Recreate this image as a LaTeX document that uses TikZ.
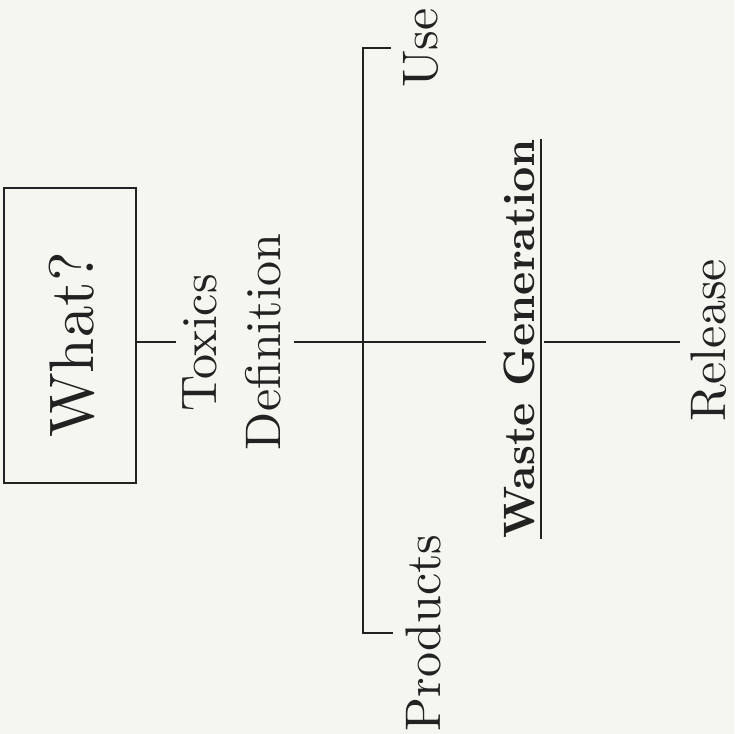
\documentclass[tikz,border=0pt]{standalone}
\usepackage{fontspec}
\setmainfont{lmroman10-regular.otf}[BoldFont=lmroman10-bold.otf]
\usepackage{xcolor}
\usepackage{tikz}
\definecolor{paper}{RGB}{246,246,241}
\definecolor{ink}{RGB}{34,34,34}
\tikzset{
  lbl/.style={rotate=90, anchor=base, inner sep=0pt, text=ink, font=\fontsize{50}{50}\selectfont},
  link/.style={draw=ink, line width=2.5pt},
}

\begin{document}
\begin{tikzpicture}[x=1pt, y=-1pt]

% ---- PAGE ----
\fill[paper] (0,0) rectangle (734,734);
\useasboundingbox (0,0) rectangle (734,734);
\coordinate (hub) at (363,342);

% ---- QUESTION BOX ----
\node[draw=ink, line width=2.6pt, minimum width=132pt, minimum height=295pt, inner sep=0pt] (what) at (70,335.5) {};
\node[lbl, font=\fontsize{63}{63}\selectfont] (whattxt) at (93,345) {What?};

% ---- LABELS ----
\node[lbl] (toxics) at (216,343) {Toxics};
\node[lbl] (defn) at (280,342) {Definition};
\node[lbl] (use) at (437,48) {Use};
\node[lbl] (prod) at (440,633) {Products};
\node[lbl, font=\fontsize{44}{44}\selectfont\bfseries] (waste) at (534,339) {Waste Generation};
\node[lbl] (release) at (725,340) {Release};

% underline of the heading
\draw[ink, line width=2.2pt] ([xshift=6pt]waste.south west) -- ([xshift=6pt]waste.south east);

% ---- CONNECTORS ----
\draw[link] (what.east |- hub) -- ([xshift=-6pt]toxics.north |- hub);
\draw[link] ([xshift=13pt]defn.south |- hub) -- ([xshift=-17pt]waste.north |- hub);
\draw[link] ([xshift=-12pt]use.north) -| (hub) |- ([xshift=-12pt]prod.north);
\draw[link] ([xshift=9pt]waste.south |- hub) -- ([xshift=-10pt]release.north |- hub);

\end{tikzpicture}
\end{document}
